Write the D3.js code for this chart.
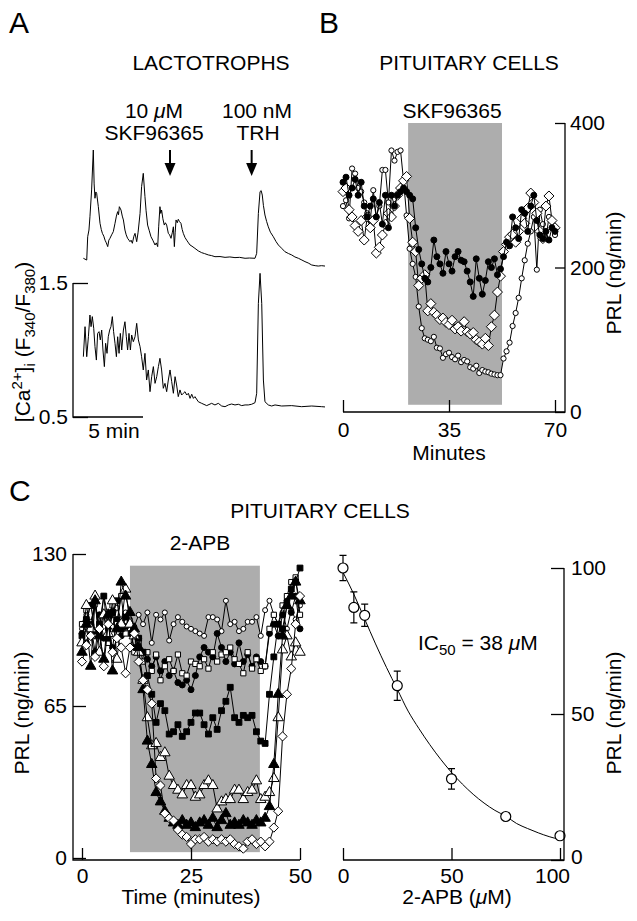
<!DOCTYPE html>
<html lang="en">
<head>
<meta charset="utf-8">
<title>SKF96365 and 2-APB on lactotrophs</title>
<script src="https://cdn.jsdelivr.net/npm/d3@7"></script>
<style>
  body { margin: 0; background: #fff; }
  svg text { font-family: "Liberation Sans", Arial, Helvetica, sans-serif; font-size: 21px; fill: #000; }
  .trace { fill: none; stroke: #000; stroke-width: 1; }
  .conn { fill: none; stroke: #000; stroke-width: 1; }
  .frame { fill: none; stroke: #000; stroke-width: 1.3; }
  .shade { fill: #adadad; }
  .panel { font-size: 30px; }
</style>
</head>
<body>
<svg id="fig" width="637" height="921"></svg>
<script>
// ---------- panel A : [Ca2+]i traces, [minutes, ratio] ----------
var topTrace = [
  [0.74,0.565],[0.98,0.552],[1.05,0.726],[1.14,0.776],[1.21,0.875],[1.33,1.075],[1.45,1.373],
  [1.51,1.12],[1.57,1.013],[1.63,1.06],[1.69,1.05],[1.81,0.95],[1.93,0.826],[2.02,0.78],[2.1,0.751],
  [2.2,0.73],[2.29,0.70],[2.38,0.68],[2.48,0.652],[2.56,0.70],[2.64,0.714],[2.76,0.74],[2.88,0.764],
  [3.0,0.826],[3.1,0.88],[3.19,0.913],[3.25,0.89],[3.31,0.95],[3.43,0.925],[3.52,0.88],[3.6,0.851],
  [3.71,0.776],[3.8,0.74],[3.9,0.714],[4.0,0.70],[4.07,0.689],[4.15,0.70],[4.24,0.677],[4.35,0.73],
  [4.43,0.751],[4.55,0.689],[4.65,0.76],[4.79,0.90],[4.9,1.10],[5.02,1.199],[5.14,1.025],[5.22,0.92],
  [5.33,0.813],[5.45,0.77],[5.57,0.726],[5.7,0.70],[5.86,0.664],[5.95,0.68],[6.05,0.652],[6.12,0.80],
  [6.21,0.95],[6.27,0.90],[6.33,0.925],[6.42,0.86],[6.52,0.813],[6.6,0.83],[6.69,0.813],[6.81,0.751],
  [6.9,0.74],[7.0,0.714],[7.1,0.76],[7.17,0.80],[7.24,0.652],[7.3,0.76],[7.36,0.851],[7.45,0.83],
  [7.52,0.856],[7.6,0.84],[7.71,0.826],[7.8,0.78],[7.88,0.751],[8.0,0.72],[8.12,0.70],[8.25,0.68],
  [8.36,0.664],[8.5,0.655],[8.71,0.639],[8.95,0.62],[9.19,0.607],[9.4,0.60],[9.67,0.59],[9.9,0.585],
  [10.14,0.577],[10.5,0.578],[10.86,0.572],[11.2,0.575],[11.57,0.57],[11.9,0.572],[12.29,0.565],
  [12.6,0.567],[13.0,0.565],[13.12,0.602],[13.24,0.90],[13.36,1.062],[13.44,1.07],[13.52,1.037],
  [13.6,0.96],[13.71,0.888],[13.83,0.84],[13.95,0.80],[14.1,0.76],[14.31,0.726],[14.5,0.69],
  [14.67,0.664],[14.9,0.64],[15.14,0.614],[15.4,0.60],[15.62,0.59],[15.85,0.575],[16.1,0.565],
  [16.35,0.552],[16.57,0.54],[16.8,0.53],[17.05,0.515],[17.3,0.51],[17.52,0.507],[17.75,0.51],[18.0,0.507]
];
var bottomTrace = [
  [0.74,0.95],[0.86,1.174],[0.98,0.95],[1.1,1.099],[1.21,1.261],[1.29,1.174],[1.38,1.249],[1.48,1.162],
  [1.57,1.025],[1.67,0.925],[1.76,1.124],[1.86,1.137],[1.95,1.075],[2.05,1.149],[2.14,1.0],[2.24,0.876],
  [2.33,1.05],[2.43,0.975],[2.52,1.099],[2.62,1.149],[2.71,1.174],[2.81,1.249],[2.9,1.137],[3.0,1.05],
  [3.1,0.95],[3.19,1.099],[3.29,0.975],[3.38,1.124],[3.48,1.0],[3.6,1.149],[3.71,1.211],[3.81,1.099],
  [3.9,1.0],[4.0,1.124],[4.1,1.0],[4.19,1.112],[4.31,1.062],[4.43,1.099],[4.55,1.199],[4.67,1.075],
  [4.79,1.025],[4.9,0.95],[5.02,0.851],[5.14,0.975],[5.26,0.776],[5.38,0.851],[5.5,0.689],[5.62,0.801],
  [5.74,0.876],[5.86,0.751],[5.98,0.801],[6.1,0.876],[6.21,0.938],[6.33,0.851],[6.45,0.714],[6.57,0.751],
  [6.69,0.689],[6.81,0.776],[6.93,0.851],[7.05,0.764],[7.17,0.677],[7.29,0.801],[7.4,0.739],[7.52,0.652],
  [7.64,0.702],[7.76,0.664],[7.88,0.677],[8.0,0.689],[8.12,0.664],[8.24,0.677],[8.36,0.639],[8.48,0.67],
  [8.6,0.639],[8.71,0.652],[8.95,0.614],[9.19,0.602],[9.55,0.585],[9.9,0.602],[10.14,0.59],[10.38,0.602],
  [10.62,0.582],[10.86,0.577],[11.1,0.59],[11.33,0.597],[11.57,0.59],[11.81,0.595],[12.05,0.585],
  [12.29,0.59],[12.52,0.59],[12.76,0.595],[13.0,0.607],[13.12,0.677],[13.24,1.348],[13.36,1.572],
  [13.48,1.348],[13.6,0.776],[13.71,0.614],[13.95,0.59],[14.19,0.582],[14.43,0.59],[14.9,0.582],
  [15.62,0.585],[16.33,0.577],[17.05,0.582],[17.76,0.577],[18.0,0.575]
];
var skfArrowMin = 6.93, trhArrowMin = 12.76;
var aTicks = [0.5, 1.5];

// ---------- panel B : PRL release, SKF96365 ----------
var bMinutes = d3.range(0, 71);
var skfWindow = [21.5, 52.5];
var bFilledCircle = [318,325,300,310,322,300,318,285,270,285, 295,270,290,260,300,255,300,285,300,305,
  310,305,300,295,255,225,205,185,180,200, 238,215,205,192,222,205,195,215,222,210,
  208,195,180,160,212,185,163,182,208,200, 212,190,198,215,235,230,270,255,240,280,
  275,250,285,300,265,245,240,250,238,255, 250];
var bOpenCircle = [285,293,268,337,330,310,305,290,275,265, 307,270,285,335,335,290,362,348,360,362,
  320,272,226,205,187,146,116,102,100,98, 104,89,88,75,80,82,76,73,78,69,
  72,70,62,60,64,54,58,56,55,53, 52,51,51,74,84,96,119,137,158,185,
  210,233,250,270,197,280,260,240,270,255, 245];
var bDiamond = [305,310,280,270,258,250,265,238,270,255, 265,220,228,245,260,275,270,285,300,310,
  320,326,268,235,222,175,185,190,140,150, 138,134,128,130,124,121,127,115,118,112,
  125,111,108,110,100,97,94,102,92,118, 134,166,188,222,232,242,246,235,250,268,
  261,282,303,290,275,250,240,285,299,265, 255];
var bTicksX = [0, 35, 70], bTicksY = [0, 200, 400];

// ---------- panel C left : PRL release, 2-APB, single experiments ----------
var cMinutes = d3.range(0, 51);
var apbWindow = [11, 40.8];
var cOpenCircle = [98,104,101,108,96,112,103,99,107,102,105, 102,99,104,100,105,92,104,102,105,93,
  100,103,101,99,98,97,96,95,103,103, 102,97,110,100,101,97,98,101,101,103, 95,106,110,104,100,105,98,106,102,108];
var cFilledCircle = [96,92,100,88,104,94,98,90,102,95,99, 96,90,94,88,85,82,86,80,84,78,
  80,75,74,76,72,78,86,90,88,86, 96,90,84,88,83,92,84,87,82,86, 84,82,96,100,95,104,110,105,112,98];
var cOpenSquare = [100,106,95,110,98,104,92,108,100,112,96, 100,88,92,84,88,80,87,76,82,85,
  80,87,79,78,84,83,82,85,81,88, 84,87,88,90,85,83,79,88,81,85, 80,82,98,104,100,108,112,118,120,104];
var cFilledSquare = [95,102,108,97,100,112,94,105,110,98,103, 100,96,94,88,78,70,58,66,63,53,
  54,57,52,54,58,62,62,57,53,60, 55,63,67,73,60,58,61,60,61,54, 50,49,70,86,100,98,108,115,118,124];
var cOpenTriangle = [92,108,98,112,88,104,96,110,85,100,115, 100,95,88,76,60,48,49,43,45,35,
  31,29,27,31,31,26,27,31,33,31, 21,24,25,25,29,29,25,28,29,33, 25,26,28,34,60,89,95,86,92,88];
var cFilledTriangle = [88,100,82,110,95,85,104,80,98,118,112, 105,98,90,72,50,40,28,24,20,17,
  15,14,16,14,15,13,15,16,14,17, 13,16,19,14,15,14,16,15,14,16, 15,17,22,40,70,95,108,112,118,110];
var cDiamond = [84,91,95,86,98,82,100,88,94,90,79, 90,96,84,76,72,66,34,31,19,17,
  16,12,10,9,6,8,8,9,7,8, 7,8,7,8,6,5,4,7,8,6, 7,5,7,13,20,52,70,81,100,112];
var cTicksX = [0, 25, 50], cTicksY = [0, 65, 130];

// ---------- panel C right : concentration dependence ----------
var apbDose = [0, 5, 10, 25, 50, 75, 100];
var apbPRL = [100, 86.5, 83.8, 59.7, 27.8, 14.9, 8.3];
var apbSEM = [4.3, 5.3, 3.8, 5.0, 3.5, 0, 0];
var fitDose = [0,5,10,15,20,25,30,35,40,45,50,55,60,65,70,75,80,85,90,95,100];
var fitPRL = [98.5,91,82.5,74,66,58.5,51,45,39.5,34.5,30,26,22.5,19.5,17,15,12.5,10.8,9.3,8,7];
var dTicks = [0, 50, 100];

var svg = d3.select("#fig");

function marker(kind, s) {
  if (kind == "circle") return d3.symbol(d3.symbolCircle, Math.PI * s * s)();
  if (kind == "square") return d3.symbol(d3.symbolSquare, 4 * s * s)();
  if (kind == "triangle") return d3.symbol(d3.symbolTriangle, 1.3 * s * s * Math.sqrt(3))();
  return "M0," + (-s) + "L" + s + ",0L0," + s + "L" + (-s) + ",0Z";
}

function cleanAxis(g) {
  g.select(".domain").remove();
  g.selectAll(".tick line").attr("stroke", "#000").attr("stroke-width", 1.3);
  g.selectAll(".tick text").attr("fill", "#000");
}

function drawSeries(g, xs, ys, x, y, kind, s, fill) {
  var pts = xs.map(function(t, i){ return [t, ys[i]]; });
  g.append("path").attr("class", "conn")
    .attr("d", d3.line().x(function(d){ return x(d[0]); }).y(function(d){ return y(d[1]); })(pts));
  g.selectAll(null).data(pts).enter().append("path")
    .attr("d", marker(kind, s))
    .attr("transform", function(d){ return "translate(" + x(d[0]) + "," + y(d[1]) + ")"; })
    .attr("fill", fill).attr("stroke", "#000").attr("stroke-width", 1);
}

// panel letters and titles
svg.append("text").attr("class", "panel").attr("x", 9).attr("y", 33).text("A");
svg.append("text").attr("class", "panel").attr("x", 319).attr("y", 33).text("B");
svg.append("text").attr("class", "panel").attr("x", 9).attr("y", 501).text("C");
svg.append("text").attr("x", 211).attr("y", 70).attr("text-anchor", "middle").text("LACTOTROPHS");
svg.append("text").attr("x", 469).attr("y", 70).attr("text-anchor", "middle").text("PITUITARY CELLS");
svg.append("text").attr("x", 320).attr("y", 518).attr("text-anchor", "middle").text("PITUITARY CELLS");

// ================= A =================
var xA = d3.scaleLinear().domain([0, 18]).range([73, 325]);
var yA = d3.scaleLinear().domain([0.5, 1.5]).range([417, 283]);
var yATop = d3.scaleLinear().domain([0.5, 1.5]).range([267, 133]);
var gA = svg.append("g");
var lineA = function(yy){ return d3.line().x(function(d){ return xA(d[0]); }).y(function(d){ return yy(d[1]); }); };
gA.append("path").attr("class", "trace").attr("d", lineA(yATop)(topTrace));
gA.append("path").attr("class", "trace").attr("d", lineA(yA)(bottomTrace));

var axA = gA.append("g").attr("transform", "translate(" + xA(0) + ",0)")
  .call(d3.axisLeft(yA).tickValues(aTicks).tickFormat(d3.format(".1f")).tickSize(-15).tickPadding(5));
cleanAxis(axA);
gA.append("path").attr("class", "frame")
  .attr("d", "M" + xA(0) + "," + yA(1.5) + "V" + yA(0.5) + "H" + xA(5));
gA.append("text").attr("x", (xA(0) + xA(5)) / 2 + 6).attr("y", 438).attr("text-anchor", "middle").text("5 min");

var aLab = gA.append("text").attr("transform", "translate(30," + 342 + ") rotate(-90)").attr("text-anchor", "middle");
aLab.append("tspan").text("[Ca");
aLab.append("tspan").attr("dy", -8).style("font-size", "15px").text("2+");
aLab.append("tspan").attr("dy", 8).text("]");
aLab.append("tspan").attr("dy", 5).style("font-size", "15px").text("i");
aLab.append("tspan").attr("dy", -5).text(" (F");
aLab.append("tspan").attr("dy", 5).style("font-size", "15px").text("340");
aLab.append("tspan").attr("dy", -5).text("/F");
aLab.append("tspan").attr("dy", 5).style("font-size", "15px").text("380");
aLab.append("tspan").attr("dy", -5).text(")");

// stimulus labels and arrows
var skfLab = gA.append("text").attr("x", 154).attr("y", 118).attr("text-anchor", "middle");
skfLab.append("tspan").text("10 ");
skfLab.append("tspan").style("font-style", "italic").text("\u03bc");
skfLab.append("tspan").text("M");
gA.append("text").attr("x", 154).attr("y", 140).attr("text-anchor", "middle").text("SKF96365");
gA.append("text").attr("x", 257).attr("y", 118).attr("text-anchor", "middle").text("100 nM");
gA.append("text").attr("x", 258).attr("y", 140).attr("text-anchor", "middle").text("TRH");
[skfArrowMin, trhArrowMin].forEach(function(t){
  var ax = xA(t);
  gA.append("line").attr("x1", ax).attr("x2", ax).attr("y1", 150).attr("y2", 166)
    .attr("stroke", "#000").attr("stroke-width", 2);
  gA.append("path").attr("d", "M" + (ax - 5.5) + ",163L" + (ax + 5.5) + ",163L" + ax + ",176Z").attr("fill", "#000");
});

// ================= B =================
var xB = d3.scaleLinear().domain([0, 70]).range([343, 555]);
var yB = d3.scaleLinear().domain([0, 400]).range([412, 123]);
var bRight = 565;
var gB = svg.append("g");
gB.append("rect").attr("class", "shade")
  .attr("x", xB(skfWindow[0])).attr("width", xB(skfWindow[1]) - xB(skfWindow[0]))
  .attr("y", yB(400)).attr("height", yB(10) - yB(400));
gB.append("text").attr("x", 452).attr("y", 118).attr("text-anchor", "middle").text("SKF96365");

drawSeries(gB, bMinutes, bOpenCircle, xB, yB, "circle", 2.6, "#fff");
drawSeries(gB, bMinutes, bDiamond, xB, yB, "diamond", 5, "#fff");
drawSeries(gB, bMinutes, bFilledCircle, xB, yB, "circle", 3, "#000");

gB.append("path").attr("class", "frame")
  .attr("d", "M" + xB(0) + "," + yB(0) + "H" + bRight + "V" + yB(400));
var axBx = gB.append("g").attr("transform", "translate(0," + yB(0) + ")")
  .call(d3.axisBottom(xB).tickValues(bTicksX).tickSize(-12).tickPadding(10));
cleanAxis(axBx);
var axBy = gB.append("g").attr("transform", "translate(" + bRight + ",0)")
  .call(d3.axisRight(yB).tickValues(bTicksY).tickSize(-10).tickPadding(5));
cleanAxis(axBy);
gB.append("text").attr("x", xB(35)).attr("y", 460).attr("text-anchor", "middle").text("Minutes");
gB.append("text").attr("transform", "translate(621,273) rotate(-90)").attr("text-anchor", "middle").text("PRL (ng/min)");

// ================= C left =================
var xC = d3.scaleLinear().domain([0, 50]).range([82, 300]);
var yC = d3.scaleLinear().domain([0, 130]).range([858, 554]);
var cLeft = 73, cBottom = 860;
var gC = svg.append("g");
gC.append("rect").attr("class", "shade")
  .attr("x", xC(apbWindow[0])).attr("width", xC(apbWindow[1]) - xC(apbWindow[0]))
  .attr("y", yC(125)).attr("height", yC(2.5) - yC(125));
gC.append("text").attr("x", 200).attr("y", 550).attr("text-anchor", "middle").text("2-APB");

drawSeries(gC, cMinutes, cOpenCircle, xC, yC, "circle", 2.5, "#fff");
drawSeries(gC, cMinutes, cFilledCircle, xC, yC, "circle", 3, "#000");
drawSeries(gC, cMinutes, cOpenSquare, xC, yC, "square", 2.6, "#fff");
drawSeries(gC, cMinutes, cFilledSquare, xC, yC, "square", 2.9, "#000");
drawSeries(gC, cMinutes, cOpenTriangle, xC, yC, "triangle", 4.6, "#fff");
drawSeries(gC, cMinutes, cFilledTriangle, xC, yC, "triangle", 4.6, "#000");
drawSeries(gC, cMinutes, cDiamond, xC, yC, "diamond", 4.6, "#fff");

gC.append("path").attr("class", "frame")
  .attr("d", "M" + cLeft + "," + yC(130) + "V" + cBottom + "H" + xC(50));
var axCx = gC.append("g").attr("transform", "translate(0," + cBottom + ")")
  .call(d3.axisBottom(xC).tickValues(cTicksX).tickSize(-12).tickPadding(8));
cleanAxis(axCx);
var axCy = gC.append("g").attr("transform", "translate(" + cLeft + ",0)")
  .call(d3.axisLeft(yC).tickValues(cTicksY).tickSize(-13).tickPadding(6));
cleanAxis(axCy);
gC.append("text").attr("x", xC(25)).attr("y", 904).attr("text-anchor", "middle").text("Time (minutes)");
gC.append("text").attr("transform", "translate(29,713) rotate(-90)").attr("text-anchor", "middle").text("PRL (ng/min)");

// ================= C right =================
var xD = d3.scaleLinear().domain([0, 100]).range([343, 560]);
var yD = d3.scaleLinear().domain([0, 100]).range([860, 568]);
var dRight = 564;
var gD = svg.append("g");
gD.append("path").attr("class", "conn")
  .attr("d", d3.line().curve(d3.curveMonotoneX)
    .x(function(d, i){ return xD(fitDose[i]); }).y(function(d){ return yD(d); })(fitPRL));
apbDose.forEach(function(dose, i){
  if (apbSEM[i] <= 0) return;
  var cx = xD(dose), y1 = yD(apbPRL[i] - apbSEM[i]), y2 = yD(apbPRL[i] + apbSEM[i]);
  gD.append("path").attr("fill", "none").attr("stroke", "#000").attr("stroke-width", 1.2)
    .attr("d", "M" + cx + "," + y1 + "V" + y2 + "M" + (cx - 3.5) + "," + y1 + "h7M" + (cx - 3.5) + "," + y2 + "h7");
});
gD.selectAll("circle.pt").data(apbDose).enter().append("circle")
  .attr("cx", function(d){ return xD(d); })
  .attr("cy", function(d, i){ return yD(apbPRL[i]); })
  .attr("r", 5).attr("fill", "#fff").attr("stroke", "#000").attr("stroke-width", 1.2);

gD.append("path").attr("class", "frame")
  .attr("d", "M" + xD(0) + "," + cBottom + "H" + dRight + "V" + yD(100));
var axDx = gD.append("g").attr("transform", "translate(0," + cBottom + ")")
  .call(d3.axisBottom(xD).tickValues(dTicks).tickSize(-12).tickPadding(8));
cleanAxis(axDx);
// last bottom label sits a little left of its tick, clear of the right axis "0"
axDx.selectAll(".tick text").filter(function(d){ return d == 100; }).attr("dx", -8);
var axDy = gD.append("g").attr("transform", "translate(" + dRight + ",0)")
  .call(d3.axisRight(yD).tickValues(dTicks).tickSize(-13).tickPadding(7));
cleanAxis(axDy);
axDy.selectAll(".tick text").filter(function(d){ return d == 0; }).attr("y", -3);

var xLab = gD.append("text").attr("x", 457).attr("y", 904).attr("text-anchor", "middle");
xLab.append("tspan").text("2-APB (");
xLab.append("tspan").style("font-style", "italic").text("\u03bc");
xLab.append("tspan").text("M)");
gD.append("text").attr("transform", "translate(621,713) rotate(-90)").attr("text-anchor", "middle").text("PRL (ng/min)");

var ic = gD.append("text").attr("x", 418).attr("y", 650);
ic.append("tspan").text("IC");
ic.append("tspan").attr("dy", 5).style("font-size", "15px").text("50");
ic.append("tspan").attr("dy", -5).text(" = 38 ");
ic.append("tspan").style("font-style", "italic").text("\u03bc");
ic.append("tspan").text("M");
</script>
</body>
</html>
